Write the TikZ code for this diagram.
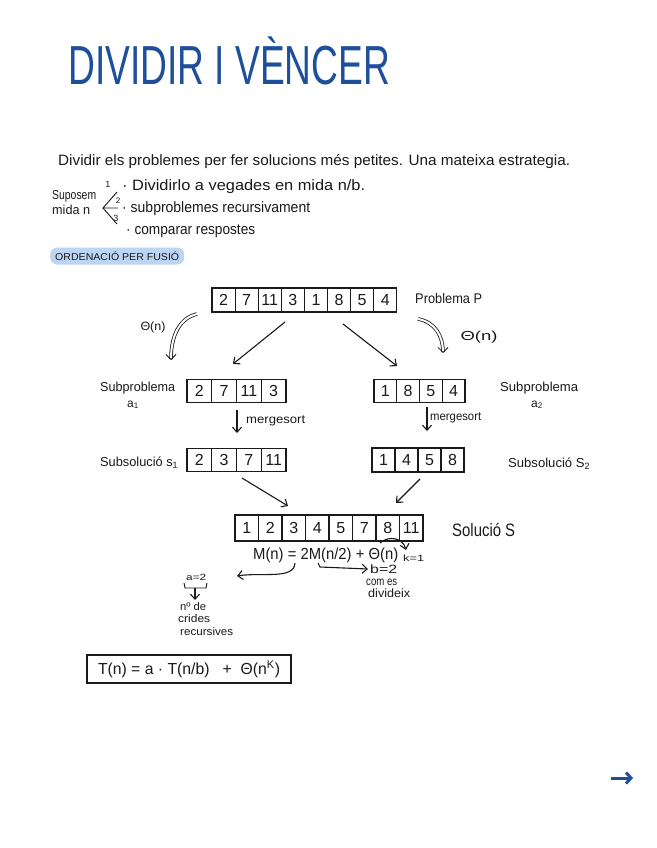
\documentclass[tikz,border=0pt]{standalone}
\usepackage{fontspec}
\setmainfont{Liberation Sans}
\usepackage{graphicx}
\usetikzlibrary{arrows.meta,calc}
\definecolor{titleblue}{HTML}{1D4F9B}
\definecolor{hlblue}{HTML}{BCD5F3}
\definecolor{ink}{HTML}{1A1A1A}
\newcommand\fitw[2]{\resizebox{#1}{\height}{#2}}
\newcommand\cellrow[6]{%
  \foreach \v [count=\i] in {#6} {%
    \node[cellbox, minimum width=#4pt, minimum height=#5pt] (#1\i) at ({#2+(\i-0.5)*#4}, #3) {\v};}}
\begin{document}
\begin{tikzpicture}[x=1pt,y=-1pt,
  txt/.style={anchor=base west, inner sep=0pt, text=ink},
  ctxt/.style={anchor=base, inner sep=0pt, text=ink},
  cellbox/.style={draw=ink, line width=1.2pt, inner sep=0pt, font=\fontsize{16}{16}\selectfont, text=ink},
  arr/.style={draw=ink, line width=1.1pt, -{Straight Barb[length=5pt,width=9pt]}},
  dblarr/.style={draw=ink, line width=0.8pt, double, double distance=2pt, -{Straight Barb[length=5pt,width=10pt]}},
  thin/.style={draw=ink, line width=0.9pt}
]
\useasboundingbox (0,0) rectangle (656,848);
\fill[white] (0,0) rectangle (656,848);

% title
\node[anchor=base west, inner sep=0pt, text=titleblue, font=\fontsize{55}{55}\selectfont] (title) at (68,85) {\fitw{322pt}{DIVIDIR I VÈNCER}};

% intro
\node[txt, font=\fontsize{15}{15}\selectfont] (intro) at (58,165) {\fitw{512pt}{Dividir els problemes per fer solucions més petites. Una mateixa estrategia.}};
\node[txt, font=\fontsize{13}{13}\selectfont] (sup1) at (52,199) {\fitw{44pt}{Suposem}};
\node[txt, font=\fontsize{13}{13}\selectfont] (sup2) at (52,214) {\fitw{38pt}{mida n}};
\coordinate (apex) at (103,208);
\coordinate (f1) at (117,192);
\coordinate (f2) at (118,208);
\coordinate (f3) at (117,224);
\draw[thin] (f1) -- (apex) -- (f2);
\draw[thin] (apex) -- (f3);
\node[ctxt, font=\fontsize{9}{9}\selectfont] (n1) at (108,187) {1};
\node[ctxt, font=\fontsize{8}{8}\selectfont] (n2) at (118,203) {2};
\node[ctxt, font=\fontsize{9}{9}\selectfont] (n3) at (116,221) {3};
\node[txt, font=\fontsize{15}{15}\selectfont] (it1) at (122,190) {\fitw{243pt}{\textperiodcentered\ Dividirlo a vegades en mida n/b.}};
\node[txt, font=\fontsize{15}{15}\selectfont] (it2) at (122,212) {\fitw{188pt}{\textperiodcentered\ subproblemes recursivament}};
\node[txt, font=\fontsize{15}{15}\selectfont] (it3) at (126,234) {\fitw{129pt}{\textperiodcentered\ comparar respostes}};

% section highlight
\node[anchor=west, fill=hlblue, rounded corners=7pt, minimum height=17pt, inner xsep=5pt, inner ysep=0pt, text=ink, font=\fontsize{10}{10}\selectfont] (sec) at (50,256) {\fitw{124pt}{ORDENACIÓ PER FUSIÓ}};

% arrays
\cellrow{p}{212}{300}{23.1}{24}{2,7,11,3,1,8,5,4}
\cellrow{a}{187}{391}{24.75}{23}{2,7,11,3}
\cellrow{b}{374}{391}{22.75}{23}{1,8,5,4}
\cellrow{s}{187}{460}{24.75}{23}{2,3,7,11}
\cellrow{t}{372}{460}{23}{24}{1,4,5,8}
\cellrow{r}{235}{528}{23.5}{26}{1,2,3,4,5,7,8,11}

% labels
\node[txt, font=\fontsize{14}{14}\selectfont] (probP) at (415,303) {\fitw{67pt}{Problema P}};
\node[anchor=center, inner sep=0pt, text=ink, font=\fontsize{12}{12}\selectfont] (thL) at (153,327) {\fitw{25pt}{Θ(n)}};
\node[anchor=center, inner sep=0pt, text=ink, font=\fontsize{13}{13}\selectfont] (thR) at (479,337) {\fitw{37pt}{Θ(n)}};
\node[txt, font=\fontsize{13}{13}\selectfont] (subL) at (100,391) {\fitw{75pt}{Subproblema}};
\node[ctxt, font=\fontsize{12}{12}\selectfont] (subLa) at (133,407) {a\textsubscript{1}};
\node[txt, font=\fontsize{13}{13}\selectfont] (subR) at (500,391) {\fitw{78pt}{Subproblema}};
\node[ctxt, font=\fontsize{12}{12}\selectfont] (subRa) at (537,407) {a\textsubscript{2}};
\node[txt, font=\fontsize{12}{12}\selectfont] (msL) at (246,423) {\fitw{59pt}{mergesort}};
\node[txt, font=\fontsize{12}{12}\selectfont] (msR) at (430,420) {\fitw{51pt}{mergesort}};
\node[txt, font=\fontsize{13}{13}\selectfont] (ssL) at (100,466) {\fitw{78pt}{Subsolució s\textsubscript{1}}};
\node[txt, font=\fontsize{13}{13}\selectfont] (ssR) at (508,467) {\fitw{82pt}{Subsolució S\textsubscript{2}}};
\node[txt, font=\fontsize{18}{18}\selectfont] (solS) at (452,536) {\fitw{63pt}{Solució S}};

% equation
\node[txt, font=\fontsize{16}{16}\selectfont] (eq) at (253,559) {\fitw{145pt}{M(n) = 2M(n/2) + Θ(n)}};
\node[txt, font=\fontsize{9}{9}\selectfont] (k1) at (403,561) {\fitw{21pt}{k=1}};
\node[txt, font=\fontsize{12}{12}\selectfont] (b2) at (370,573) {\fitw{27pt}{b=2}};
\node[txt, font=\fontsize{12}{12}\selectfont] (comes) at (366,585) {\fitw{31pt}{com es}};
\node[txt, font=\fontsize{12}{12}\selectfont] (divx) at (368,597) {\fitw{42pt}{divideix}};
\node[txt, font=\fontsize{9}{9}\selectfont] (a2) at (186,580) {\fitw{20pt}{a=2}};
\node[txt, font=\fontsize{11}{11}\selectfont] (nde) at (180,610) {\fitw{26pt}{nº de}};
\node[txt, font=\fontsize{11}{11}\selectfont] (crides) at (178,622) {\fitw{32pt}{crides}};
\node[txt, font=\fontsize{11}{11}\selectfont] (recur) at (180,635) {\fitw{53pt}{recursives}};

% boxed formula
\node[draw=ink, line width=1.4pt, minimum width=204pt, minimum height=28pt, inner sep=0pt, text=ink, font=\fontsize{16}{16}\selectfont] (Tbox) at (189,669) {\fitw{182pt}{T(n) = a · T(n/b) \ \ + \ Θ(n\textsuperscript{K})}};

% connectors
\coordinate (pL) at (285,322); \coordinate (aT) at (233,364);
\coordinate (pR) at (343,324); \coordinate (bT) at (397,366);
\draw[arr] (pL) -- (aT);
\draw[arr] (pR) -- (bT);
\coordinate (dl1) at (197,314); \coordinate (dl2) at (171,360);
\draw[dblarr] (dl1) .. controls (180,318) and (171,335) .. (dl2);
\coordinate (dr1) at (418,319); \coordinate (dr2) at (443,353);
\draw[dblarr] (dr1) .. controls (435,322) and (443,336) .. (dr2);
\coordinate (mL1) at (237,410); \coordinate (mL2) at (237,433);
\draw[arr] (mL1) -- (mL2);
\coordinate (mR1) at (427,407); \coordinate (mR2) at (427,431);
\draw[arr] (mR1) -- (mR2);
\coordinate (sA) at (242,478); \coordinate (rA) at (288,506);
\draw[arr] (sA) -- (rA);
\coordinate (tA) at (420,479); \coordinate (rB) at (396,503);
\draw[arr] (tA) -- (rB);

% equation annotations
\coordinate (e2) at (295,563); \coordinate (e2end) at (237,576);
\draw[arr] (e2) .. controls (294,580) and (262,572) .. (e2end);
\coordinate (en1) at (318,563); \coordinate (en2) at (368,569);
\draw[arr] (en1) -- (320,567) -- (en2);
\coordinate (th1) at (380,543); \coordinate (th2) at (406,550);
\draw[arr] (th1) .. controls (389,535) and (403,538) .. (th2);
\coordinate (br1) at (184,583); \coordinate (br2) at (207,583);
\draw[thin] (br1) -- (185,588) -- (206,588) -- (br2);
\coordinate (brm) at (195,588); \coordinate (brd) at (195,600);
\draw[arr] (brm) -- (brd);

% blue arrow
\coordinate (ba1) at (611,778); \coordinate (ba2) at (633,778);
\draw[draw=titleblue, line width=3pt, -{Straight Barb[length=5pt,width=11pt]}] (ba1) -- (ba2);
\end{tikzpicture}
\end{document}
